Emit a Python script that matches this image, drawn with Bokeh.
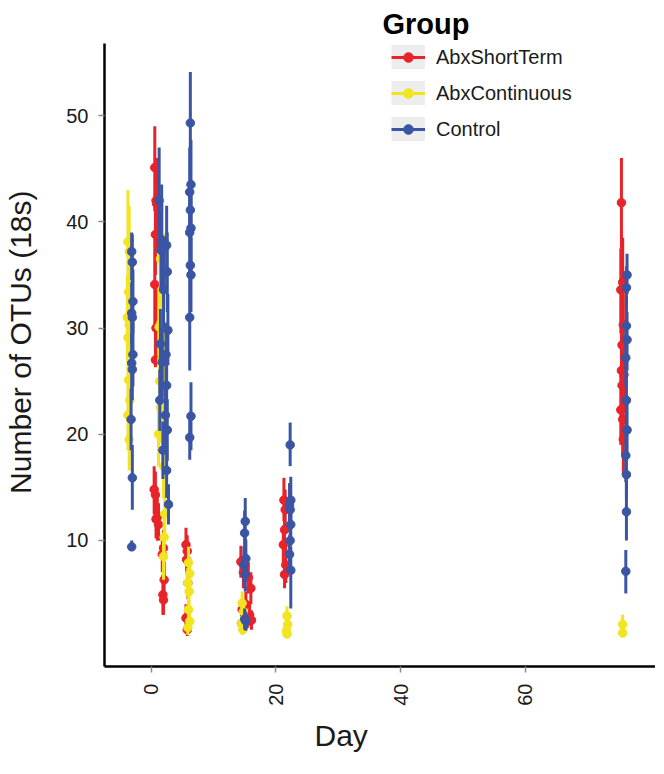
import math
from bokeh.plotting import figure
from bokeh.models import (ColumnDataSource, Range1d, FixedTicker, Legend, LegendItem, Title)
from bokeh.embed import file_html
from bokeh.resources import INLINE

FONT = "Liberation Sans"

group_names = ["AbxShortTerm", "AbxContinuous", "Control"]
group_colors = ["#E8232A", "#F2E41E", "#3A55A4"]

x_ticks = [0, 20, 40, 60]
y_ticks = [10, 20, 30, 40, 50]

# AbxShortTerm (red)
short_day = [0.6, 0.8, 0.9, 0.7, 0.6, 0.8, 0.7,
             0.5, 0.7, 1.0, 0.8, 1.2,
             2.0, 1.8, 2.1, 1.9, 2.0,
             5.6, 5.8, 5.7, 5.9, 5.6, 5.8,
             14.4, 14.8, 15.6, 16.0, 15.2, 14.6, 15.8, 16.1, 15.0, 14.5,
             21.3, 21.5, 21.4, 21.2, 21.6, 21.4,
             75.4, 75.6, 75.3, 75.7, 75.5, 75.4, 75.8, 75.5, 75.3, 75.6, 75.7]
short_otus = [45.1, 42.0, 41.7, 38.8, 34.1, 30.0, 27.0,
              14.8, 14.3, 12.2, 12.0, 11.5,
              9.3, 8.7, 6.3, 4.9, 4.4,
              9.6, 9.0, 8.2, 6.0, 2.7, 1.6,
              8.0, 7.0, 6.5, 5.5, 4.0, 3.5, 3.0, 2.5, 2.0, 2.2,
              13.8, 12.9, 11.0, 9.6, 7.7, 6.8,
              41.8, 34.3, 33.6, 30.3, 28.4, 26.0, 25.6, 24.6, 22.3, 21.4, 19.5]
short_lo = [41.0, 38.0, 37.5, 35.0, 30.0, 26.5, 26.3,
            12.5, 12.0, 10.0, 10.2, 10.0,
            7.5, 7.0, 4.5, 3.0, 3.0,
            8.0, 7.5, 6.8, 4.5, 1.5, 1.0,
            6.5, 5.5, 5.0, 4.0, 3.0, 2.5, 2.0, 1.6, 1.3, 1.4,
            11.8, 11.0, 9.2, 7.8, 6.0, 5.5,
            37.5, 30.5, 29.5, 26.5, 25.0, 22.5, 22.0, 21.0, 19.0, 18.0, 16.2]
short_hi = [49.0, 46.0, 46.0, 43.0, 38.5, 34.0, 30.5,
            17.0, 16.5, 14.5, 14.0, 13.5,
            11.0, 10.5, 8.0, 6.8, 6.0,
            11.2, 10.5, 9.8, 7.5, 4.0, 2.5,
            9.5, 8.5, 8.0, 7.0, 5.2, 4.5, 4.0, 3.4, 2.8, 3.0,
            15.9, 14.8, 12.8, 11.4, 9.4, 8.3,
            46.0, 38.5, 37.5, 34.0, 32.0, 29.5, 29.0, 28.0, 25.5, 24.5, 22.8]

# AbxContinuous (yellow)
cont_day = [-3.7, -3.5, -3.6, -3.8, -3.5, -3.7, -3.6, -3.4, -3.7, -3.5,
            1.8, 1.5, 1.6, 1.3, 2.0, 1.7, 1.4, 2.1, 1.5, 1.2, 1.9, 2.0, 2.2, 2.1, 2.0,
            6.0, 6.2, 5.9, 6.1, 6.0, 6.2, 5.9,
            14.6, 14.8, 14.5, 14.7,
            21.8, 21.9, 21.7, 21.8,
            75.6, 75.6]
cont_otus = [38.1, 37.2, 33.4, 31.0, 30.3, 29.1, 25.1, 23.2, 21.8, 19.5,
             38.5, 36.5, 30.5, 30.1, 29.8, 27.0, 25.0, 24.5, 22.5, 20.0, 19.5, 17.0, 12.5, 10.3, 8.5,
             7.9, 6.9, 6.0, 5.2, 3.5, 2.4, 1.8,
             4.1, 3.3, 2.2, 1.6,
             2.9, 2.1, 1.5, 1.2,
             2.1, 1.3]
cont_lo = [33.5, 33.0, 29.5, 27.0, 26.5, 25.5, 21.5, 20.0, 18.5, 16.6,
           35.0, 33.0, 27.0, 26.5, 26.5, 23.5, 21.5, 21.0, 19.5, 17.0, 16.5, 14.0, 10.0, 8.0, 6.3,
           6.3, 5.4, 4.6, 3.9, 2.4, 1.5, 1.1,
           3.0, 2.3, 1.5, 1.1,
           2.0, 1.4, 1.0, 0.9,
           1.4, 0.9]
cont_hi = [43.0, 41.5, 37.5, 35.0, 34.0, 33.0, 28.8, 26.5, 25.0, 22.5,
           42.0, 40.0, 34.0, 33.8, 33.5, 30.5, 28.5, 28.0, 25.5, 23.0, 22.5, 20.0, 15.0, 12.6, 10.7,
           9.4, 8.4, 7.4, 6.5, 4.6, 3.3, 2.5,
           5.2, 4.3, 2.9, 2.2,
           3.8, 2.8, 2.1, 1.6,
           3.0, 1.8]

# Control (blue)
ctrl_day = [-3.1, -3.0, -2.9, -3.1, -3.0, -2.9, -3.1, -3.0, -3.2, -3.0, -3.1,
            1.3, 1.7, 2.5, 1.6, 2.6, 2.0, 2.7, 1.5, 2.4, 1.8, 2.5, 1.4, 2.3, 2.6, 1.9, 2.5, 2.8,
            6.3, 6.4, 6.2, 6.3, 6.4, 6.2, 6.3, 6.4, 6.2, 6.4, 6.2,
            15.1, 15.0, 15.2, 14.9, 15.1, 15.0, 15.2,
            22.3, 22.4, 22.2, 22.3, 22.4, 22.3, 22.2, 22.4,
            76.3, 76.2, 76.2, 76.3, 76.1, 76.2, 76.3, 76.1, 76.2, 76.2, 76.1]
ctrl_otus = [37.2, 36.2, 32.5, 31.4, 31.0, 27.5, 26.7, 26.1, 21.4, 15.9, 9.4,
             42.0, 38.3, 37.8, 37.3, 35.3, 33.6, 29.8, 28.5, 27.5, 26.8, 24.6, 23.2, 21.8, 20.4, 18.5, 16.6, 13.4,
             49.3, 43.5, 42.8, 41.1, 39.4, 39.0, 35.9, 35.0, 31.0, 21.7, 19.7,
             11.8, 10.7, 8.3, 7.7, 6.8, 2.6, 2.4,
             19.0, 13.8, 13.3, 12.9, 11.5, 10.0, 8.7, 7.2,
             35.0, 33.8, 30.2, 28.9, 27.2, 23.2, 20.4, 18.0, 16.2, 12.7, 7.1]
ctrl_lo = [34.5, 33.5, 29.5, 28.5, 28.0, 24.5, 24.0, 23.2, 18.5, 12.9, 9.0,
           37.5, 34.0, 34.0, 33.5, 31.5, 30.0, 26.5, 25.2, 24.5, 23.5, 21.5, 20.3, 18.8, 17.5, 15.8, 14.0, 11.5,
           44.5, 39.3, 38.5, 37.0, 35.5, 35.0, 32.3, 31.5, 26.0, 18.5, 17.6,
           9.6, 8.6, 6.5, 6.0, 5.2, 1.6, 1.5,
           17.0, 11.6, 11.2, 10.8, 9.5, 8.1, 6.9, 3.6,
           33.2, 31.8, 27.5, 26.0, 24.5, 20.5, 18.0, 15.5, 14.0, 10.0, 5.0]
ctrl_hi = [39.0, 38.8, 35.5, 34.3, 34.0, 30.5, 29.5, 29.0, 24.3, 19.0, 10.0,
           47.0, 43.5, 41.5, 41.0, 39.0, 37.3, 33.2, 31.8, 30.5, 30.0, 27.7, 26.1, 24.8, 23.3, 21.2, 19.2, 15.3,
           54.1, 47.7, 47.0, 45.2, 43.3, 43.0, 39.5, 38.5, 36.0, 24.9, 21.8,
           14.0, 12.8, 10.1, 9.4, 8.4, 3.6, 3.3,
           21.1, 16.0, 15.4, 15.0, 13.5, 11.9, 10.5, 9.4,
           37.0, 35.8, 33.0, 31.5, 30.0, 26.0, 23.0, 20.5, 18.5, 15.5, 9.1]

group_data = [
    (short_day, short_otus, short_lo, short_hi),
    (cont_day, cont_otus, cont_lo, cont_hi),
    (ctrl_day, ctrl_otus, ctrl_lo, ctrl_hi),
]

p = figure(width=655, height=765, output_backend="svg", toolbar_location=None,
           x_range=Range1d(-7.46, 80.86), y_range=Range1d(-1.86, 56.78),
           min_border_left=103, min_border_right=0, min_border_top=43, min_border_bottom=99)
p.outline_line_color = None
p.xgrid.grid_line_color = None
p.ygrid.grid_line_color = None
p.background_fill_color = "white"

items = []
for name, color, (d, y, lo, hi) in zip(group_names, group_colors, group_data):
    src = ColumnDataSource(dict(day=d, otus=y, lo=lo, hi=hi,
                                nokey=[float("nan")] * len(d)))
    # legend key background only: NaN ends, so nothing is drawn in the plot area
    key_bg = p.segment(x0="day", y0="nokey", x1="day", y1="nokey", source=src,
                       line_color="#EDEDED", line_width=33, line_cap="butt")
    seg = p.segment(x0="day", y0="lo", x1="day", y1="hi", source=src,
                    line_color=color, line_width=3)
    pts = p.scatter(x="day", y="otus", source=src, size=8.5,
                    fill_color=color, line_color=color)
    items.append(LegendItem(label=name, renderers=[key_bg, seg, pts]))

legend = Legend(items=items, location=(287, 525),
                label_text_font=FONT, label_text_font_size="20px",
                label_text_color="#1A1A1A",
                glyph_width=34, glyph_height=24, spacing=12, label_standoff=11,
                padding=0, margin=0, border_line_color=None,
                background_fill_alpha=0)
p.add_layout(legend, "center")

legend_title = Title(text="Group", align="left", offset=278, standoff=8,
                     vertical_align="bottom",
                     text_font=FONT, text_font_size="29px", text_font_style="bold",
                     text_color="black")
p.add_layout(legend_title, "above")

for ax in (p.xaxis[0], p.yaxis[0]):
    ax.axis_line_color = "black"
    ax.axis_line_width = 2.5
    ax.major_tick_line_color = "#8C8C8C"
    ax.major_tick_line_width = 1.5
    ax.major_tick_out = 6
    ax.major_tick_in = 0
    ax.minor_tick_line_color = None
    ax.major_label_text_font = FONT
    ax.major_label_text_font_size = "20px"
    ax.major_label_text_color = "#1A1A1A"
    ax.axis_label = None

p.xaxis.ticker = FixedTicker(ticks=x_ticks)
p.yaxis.ticker = FixedTicker(ticks=y_ticks)
p.xaxis.major_label_orientation = math.pi / 2
p.xaxis.major_label_standoff = 11
p.yaxis.major_label_standoff = 10

x_title = Title(text="Day", align="left", offset=210, standoff=16,
                text_font=FONT, text_font_size="30px", text_font_style="normal",
                text_color="#1A1A1A")
p.add_layout(x_title, "below")

# gap between the y tick labels and the y-axis title
y_gap = Title(text=" ", text_font_size="2px", standoff=22, text_color="white")
p.add_layout(y_gap, "left")
y_title = Title(text="Number of OTUs (18s)", align="right", offset=147, standoff=2,
                text_font=FONT, text_font_size="30px", text_font_style="normal",
                text_color="#1A1A1A")
p.add_layout(y_title, "left")

open("out.html", "w").write(file_html(p, INLINE))
